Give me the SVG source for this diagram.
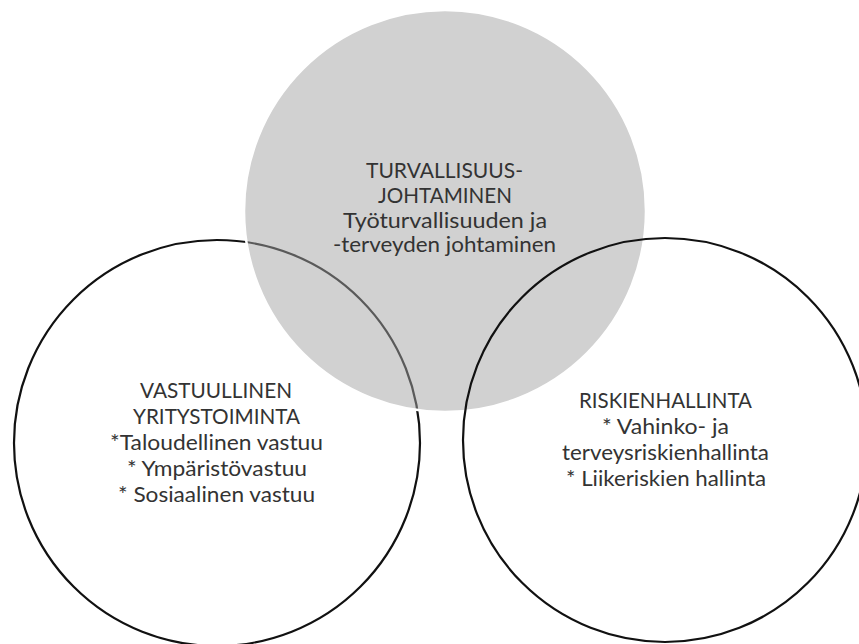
<svg xmlns="http://www.w3.org/2000/svg" width="859" height="644" viewBox="0 0 859 644">
  <style>
    .ring { fill: none; stroke: #111111; stroke-width: 2.2; }
    .core { fill: #a4a4a4; fill-opacity: 0.5; stroke: #ffffff; stroke-width: 2.5; }
    .label { font-family: Lato, "Open Sans", "Liberation Sans", sans-serif; font-size: 21px; fill: #333333; }
  </style>
  <rect x="0" y="0" width="859" height="644" fill="#ffffff"/>

  <!-- Responsible business (left) -->
  <g id="node-vastuullinen">
    <circle class="ring" cx="217" cy="443" r="203"/>
    <text class="label" x="140" y="398" textLength="152" lengthAdjust="spacingAndGlyphs">VASTUULLINEN</text>
    <text class="label" x="133" y="424" textLength="167" lengthAdjust="spacingAndGlyphs">YRITYSTOIMINTA</text>
    <text class="label" x="110" y="450" textLength="213" lengthAdjust="spacingAndGlyphs">*Taloudellinen vastuu</text>
    <text class="label" x="127" y="476" textLength="180" lengthAdjust="spacingAndGlyphs">* Ympäristövastuu</text>
    <text class="label" x="118" y="502" textLength="197" lengthAdjust="spacingAndGlyphs">* Sosiaalinen vastuu</text>
  </g>

  <!-- Safety management (top, shaded) -->
  <g id="node-turvallisuus">
    <circle class="core" cx="445" cy="211" r="201"/>
    <text class="label" x="366" y="178" textLength="157" lengthAdjust="spacingAndGlyphs">TURVALLISUUS-</text>
    <text class="label" x="378" y="203" textLength="134" lengthAdjust="spacingAndGlyphs">JOHTAMINEN</text>
    <text class="label" x="343" y="228" textLength="204" lengthAdjust="spacingAndGlyphs">Työturvallisuuden ja</text>
    <text class="label" x="333" y="252" textLength="223" lengthAdjust="spacingAndGlyphs">-terveyden johtaminen</text>
  </g>

  <!-- Risk management (right) -->
  <g id="node-riskienhallinta">
    <circle class="ring" cx="665" cy="440" r="202"/>
    <text class="label" x="579" y="408" textLength="173" lengthAdjust="spacingAndGlyphs">RISKIENHALLINTA</text>
    <text class="label" x="602" y="434" textLength="127" lengthAdjust="spacingAndGlyphs">* Vahinko- ja</text>
    <text class="label" x="562" y="460" textLength="207" lengthAdjust="spacingAndGlyphs">terveysriskienhallinta</text>
    <text class="label" x="566" y="486" textLength="200" lengthAdjust="spacingAndGlyphs">* Liikeriskien hallinta</text>
  </g>
</svg>
